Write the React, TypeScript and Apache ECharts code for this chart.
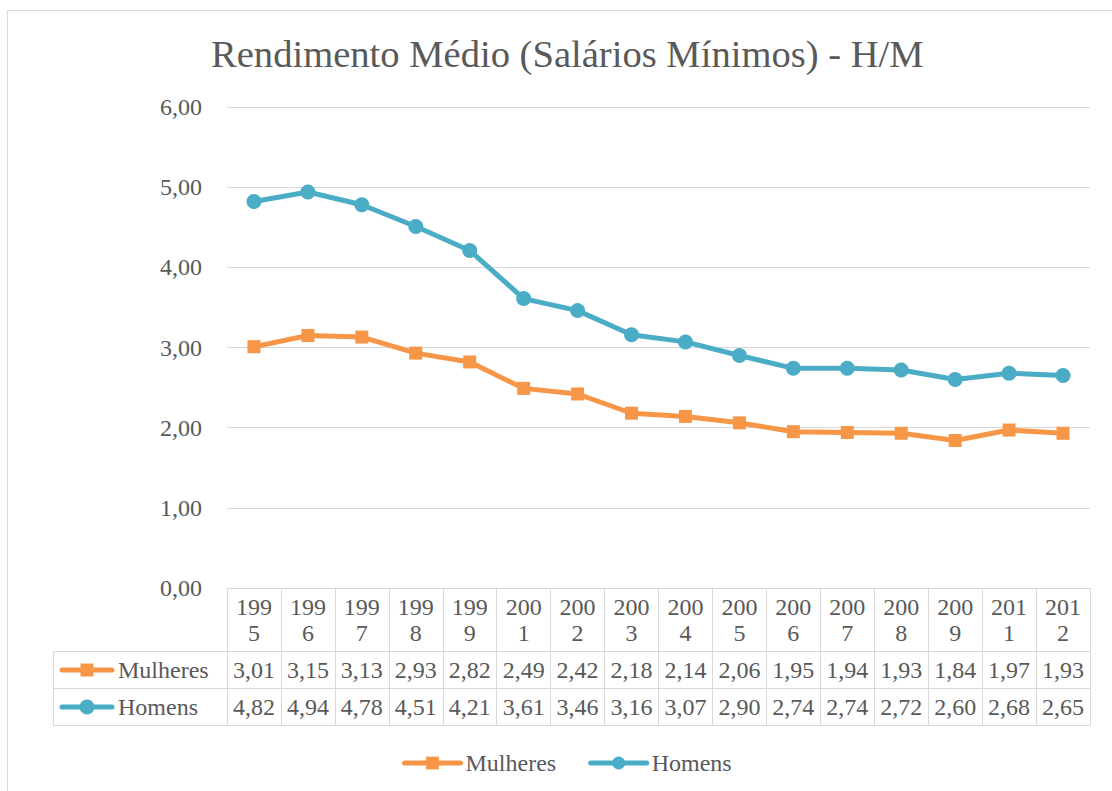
import React, { useEffect, useRef } from "react";
import * as echarts from "echarts";

const years = ["1995", "1996", "1997", "1998", "1999", "2001", "2002", "2003", "2004", "2005", "2006", "2007", "2008", "2009", "2011", "2012"];
const seriesNames = ["Mulheres", "Homens"];
const mulheres = [3.01, 3.15, 3.13, 2.93, 2.82, 2.49, 2.42, 2.18, 2.14, 2.06, 1.95, 1.94, 1.93, 1.84, 1.97, 1.93];
const homens = [4.82, 4.94, 4.78, 4.51, 4.21, 3.61, 3.46, 3.16, 3.07, 2.9, 2.74, 2.74, 2.72, 2.6, 2.68, 2.65];
const yTicks = { min: 0, max: 6, interval: 1 };
const title = "Rendimento Médio (Salários Mínimos) - H/M";

const ORANGE = "#F79646";
const BLUE = "#4BACC6";
const TXT = "#595959";
const GRID = "#D9D9D9";
const FONT = "'Liberation Serif', 'DejaVu Serif', serif";

const fmt = (v: number) => v.toFixed(2).replace(".", ",");

export default function App() {
  const ref = useRef<HTMLDivElement>(null);
  useEffect(() => {
    document.body.style.margin = "0";
    document.body.style.overflow = "hidden";
    const chart = echarts.init(ref.current!, null, { renderer: "svg" });

    const rowAxis = (offset: number, values: number[] | null, margin: number) => ({
      type: "category",
      data: years,
      position: "bottom",
      offset,
      boundaryGap: true,
      axisLine: { show: true, lineStyle: { color: GRID, width: 1 } },
      axisTick: { show: false },
      axisLabel: values
        ? {
            show: true,
            interval: 0,
            margin,
            color: TXT,
            fontFamily: FONT,
            fontSize: 24,
            formatter: (_v: string, i: number) => fmt(values[i]),
          }
        : { show: false },
      splitLine: { show: false },
    });

    const L = 53; // left edge of the table
    const G = 227; // grid left
    const rowsY = [651.5, 688.5, 725.5];

    chart.setOption({
      animation: false,
      backgroundColor: "#fff",
      title: {
        text: title,
        left: 206,
        top: 29,
        textStyle: { fontFamily: FONT, fontSize: 38.6, fontWeight: "normal", color: TXT },
      },
      grid: { left: G, right: 22, top: 107, bottom: 203, containLabel: false },
      xAxis: [
        {
          type: "category",
          data: years,
          boundaryGap: true,
          axisLine: { show: true, lineStyle: { color: GRID, width: 1 } },
          axisTick: { show: true, interval: 0, length: 137, lineStyle: { color: GRID, width: 1 } },
          axisLabel: {
            interval: 0,
            margin: 6,
            color: TXT,
            fontFamily: FONT,
            fontSize: 24,
            lineHeight: 26,
            formatter: (v: string) => v.slice(0, 3) + "\n" + v.slice(3),
          },
          splitLine: { show: false },
        },
        rowAxis(63, mulheres, 7),
        rowAxis(100, homens, 7),
        rowAxis(137, null, 0),
      ],
      yAxis: {
        type: "value",
        min: yTicks.min,
        max: yTicks.max,
        interval: yTicks.interval,
        axisLine: { show: false },
        axisTick: { show: false },
        axisLabel: { margin: 25, color: TXT, fontFamily: FONT, fontSize: 24, formatter: (v: number) => fmt(v) },
        splitLine: { lineStyle: { color: GRID, width: 1 } },
      },
      legend: {
        data: seriesNames,
        left: 402,
        top: 751,
        padding: 0,
        itemWidth: 56,
        itemHeight: 16,
        itemGap: 32,
        textStyle: { fontFamily: FONT, fontSize: 24, color: TXT },
        lineStyle: { width: 5 },
      },
      series: [
        {
          name: seriesNames[0],
          type: "line",
          data: mulheres,
          symbol: "rect",
          symbolSize: 13,
          itemStyle: { color: ORANGE },
          lineStyle: { color: ORANGE, width: 5, cap: "round", join: "round" },
        },
        {
          name: seriesNames[1],
          type: "line",
          data: homens,
          symbol: "circle",
          symbolSize: 15,
          itemStyle: { color: BLUE },
          lineStyle: { color: BLUE, width: 5, cap: "round", join: "round" },
        },
      ],
      graphic: [
        {
          type: "rect",
          shape: { x: 7.5, y: 10.5, width: 1110, height: 790 },
          style: { fill: "none", stroke: GRID, lineWidth: 1 },
          silent: true,
        },
        ...rowsY.map((y) => ({
          type: "line",
          shape: { x1: L, y1: y, x2: G, y2: y },
          style: { stroke: GRID, lineWidth: 1 },
          silent: true,
        })),
        {
          type: "line",
          shape: { x1: L + 0.5, y1: rowsY[0], x2: L + 0.5, y2: rowsY[2] },
          style: { stroke: GRID, lineWidth: 1 },
          silent: true,
        },
        // table legend keys
        ...[
          { y: 670, color: ORANGE, name: seriesNames[0], shape: "rect" },
          { y: 707, color: BLUE, name: seriesNames[1], shape: "circle" },
        ].flatMap((k) => [
          {
            type: "line",
            shape: { x1: 62, y1: k.y, x2: 112, y2: k.y },
            style: { stroke: k.color, lineWidth: 5, lineCap: "round" },
            silent: true,
          },
          k.shape === "rect"
            ? { type: "rect", shape: { x: 80.5, y: k.y - 6.5, width: 13, height: 13 }, style: { fill: k.color }, silent: true }
            : { type: "circle", shape: { cx: 87, cy: k.y, r: 7.5 }, style: { fill: k.color }, silent: true },
          {
            type: "text",
            x: 118,
            y: k.y,
            style: { text: k.name, fill: TXT, font: `24px ${FONT}`, verticalAlign: "middle", align: "left" },
            silent: true,
          },
        ]),
      ],
    });
    return () => chart.dispose();
  }, []);
  return <div ref={ref} style={{ width: 1112, height: 791 }} />;
}
